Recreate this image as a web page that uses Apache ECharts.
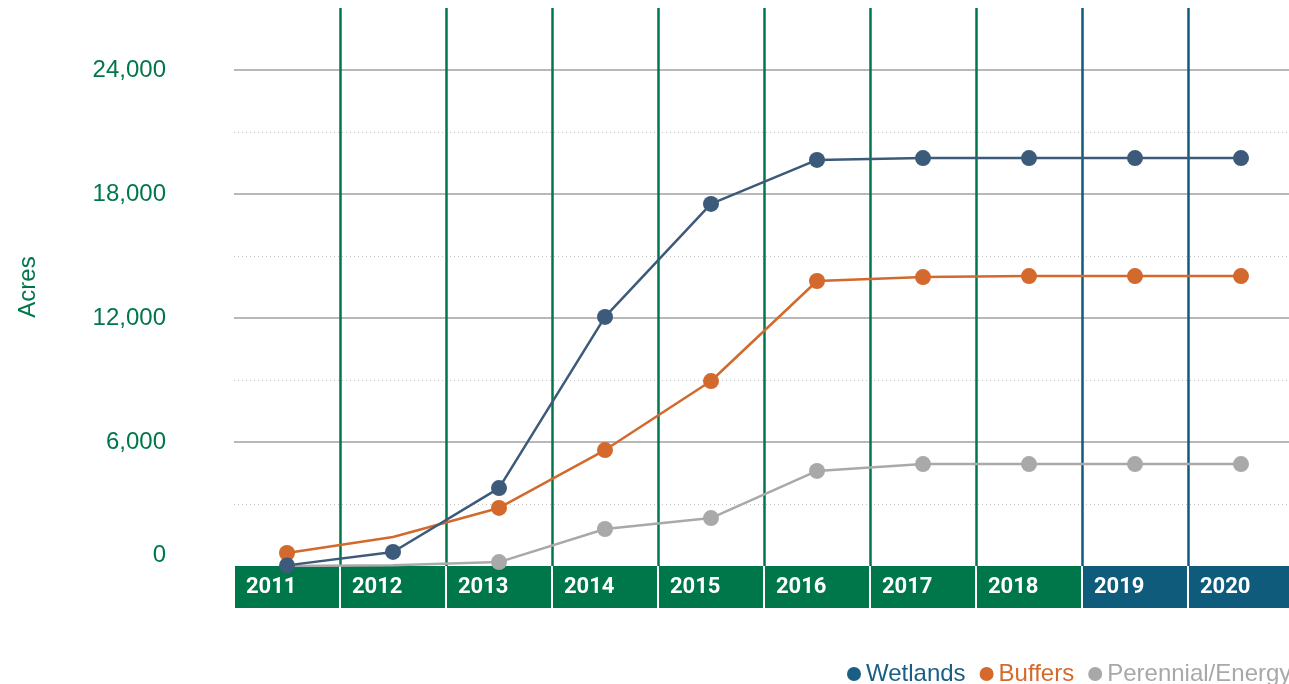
<!DOCTYPE html>
<html>
<head>
<meta charset="utf-8">
<script src="https://cdn.jsdelivr.net/npm/echarts@6/dist/echarts.min.js"></script>
<style>
  html, body { margin: 0; padding: 0; background: #fff; }
  #chart { width: 1289px; height: 684px; }
</style>
</head>
<body>
<div id="chart"></div>
<script>
// data
let years = ['2011', '2012', '2013', '2014', '2015', '2016', '2017', '2018', '2019', '2020'];
let wetlands = [30, 680, 3770, 12050, 17520, 19650, 19740, 19740, 19740, 19740];
let buffers = [630, 1400, 2810, 5610, 8950, 13790, 13980, 14030, 14030, 14030];
let perennial = [0, 40, 190, 1790, 2320, 4600, 4930, 4930, 4930, 4930];
// years without a dot in the original
let noDot = { buffers: [1], perennial: [0, 1] };

let green = '#00774a';
let blue = '#0f5b7c';
let projected = ['2019', '2020'];
let font = 'Liberation Sans, Arial, sans-serif';

function withDots(values, hidden) {
    return values.map((v, i) => hidden && hidden.includes(i) ? { value: v, symbol: 'none' } : v);
}

let yearBox = color => ({
    backgroundColor: color, color: '#fff', fontSize: 22, fontWeight: 'bold',
    fontFamily: 'Roboto, sans-serif',
    width: 93, height: 42, lineHeight: 42, padding: [0, 0, 0, 11], align: 'left'
});

let chart = echarts.init(document.getElementById('chart'));

let option = {
    animation: false,
    textStyle: { fontFamily: font },
    grid: {
        left: 234,
        top: 8,
        width: 1060,
        bottom: 118,
        outerBoundsMode: 'none',
        containLabel: false
    },
    legend: {
        left: 842,
        top: 657,
        width: 800,
        icon: 'circle',
        itemWidth: 14,
        itemHeight: 14,
        itemGap: 14,
        textStyle: { fontSize: 24, fontFamily: font },
        data: [
            { name: 'Wetlands', itemStyle: { color: '#1b5e84' }, textStyle: { color: '#1b5e84' } },
            { name: 'Buffers', itemStyle: { color: '#d5692c' }, textStyle: { color: '#d5692c' } },
            { name: 'Perennial/Energy', itemStyle: { color: '#a8a8a8' }, textStyle: { color: '#a8a8a8' } }
        ]
    },
    xAxis: {
        type: 'category',
        data: years,
        boundaryGap: true,
        axisLine: { show: false },
        axisTick: { show: false },
        splitLine: {
            show: true,
            lineStyle: {
                width: 2.5,
                color: ['rgba(0,0,0,0)', green, green, green, green, green, green, green, blue, blue, blue]
            }
        },
        axisLabel: {
            interval: 0,
            margin: 0,
            hideOverlap: false,
            formatter: v => (projected.includes(v) ? '{b|' : '{g|') + v + '}',
            rich: { g: yearBox(green), b: yearBox(blue) }
        }
    },
    yAxis: [
        {
            type: 'value',
            min: 0,
            max: 27000,
            interval: 6000,
            name: 'Acres',
            nameLocation: 'middle',
            nameRotate: 90,
            nameGap: 194,
            nameTextStyle: { color: green, fontSize: 24, fontFamily: font },
            axisLine: { show: false },
            axisTick: { show: false },
            axisLabel: {
                margin: 68,
                color: green,
                fontSize: 24,
                fontFamily: font,
                formatter: v => v === 0 ? '{z|0}' : (v > 24000 ? '' : v.toLocaleString('en-US')),
                rich: { z: { color: green, fontSize: 24, fontFamily: font, padding: [0, 0, 22, 0] } }
            },
            splitLine: {
                lineStyle: {
                    width: 2,
                    color: ['rgba(0,0,0,0)', '#b8b8b8', '#b8b8b8', '#b8b8b8', '#b8b8b8', 'rgba(0,0,0,0)']
                }
            }
        },
        {
            type: 'value',
            min: 0,
            max: 27000,
            interval: 3000,
            axisLine: { show: false },
            axisTick: { show: false },
            axisLabel: { show: false },
            splitLine: {
                lineStyle: {
                    width: 1,
                    type: [1, 3],
                    color: ['rgba(0,0,0,0)', '#c4c4c4', 'rgba(0,0,0,0)', '#c4c4c4', 'rgba(0,0,0,0)',
                        '#c4c4c4', 'rgba(0,0,0,0)', '#c4c4c4', 'rgba(0,0,0,0)', 'rgba(0,0,0,0)']
                }
            }
        }
    ],
    series: [
        {
            name: 'Perennial/Energy',
            type: 'line',
            z: 3,
            data: withDots(perennial, noDot.perennial),
            symbol: 'circle',
            symbolSize: 16,
            color: '#a9a9a9',
            lineStyle: { width: 2.5 }
        },
        {
            name: 'Buffers',
            type: 'line',
            z: 4,
            data: withDots(buffers, noDot.buffers),
            symbol: 'circle',
            symbolSize: 16,
            color: '#d3692c',
            lineStyle: { width: 2.5 }
        },
        {
            name: 'Wetlands',
            type: 'line',
            z: 5,
            data: wetlands,
            symbol: 'circle',
            symbolSize: 16,
            color: '#3c5a79',
            lineStyle: { width: 2.5 }
        }
    ]
};

chart.setOption(option);
</script>
</body>
</html>
